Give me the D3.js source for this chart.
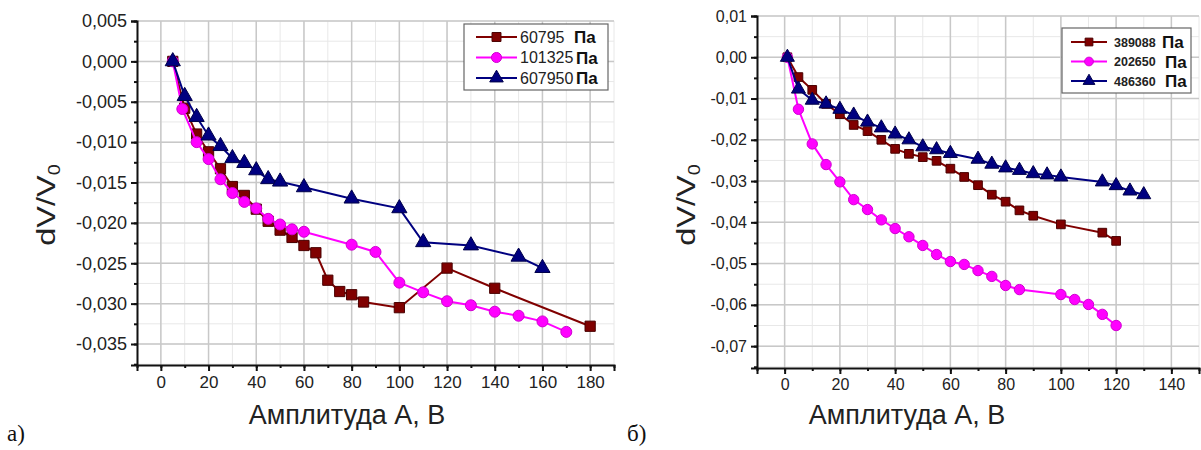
<!DOCTYPE html>
<html>
<head>
<meta charset="utf-8">
<script src="https://cdn.jsdelivr.net/npm/d3@7"></script>
<style>
  body { margin: 0; background: #fff; }
  svg { display: block; font-family: "Liberation Sans", Arial, sans-serif; }
</style>
</head>
<body>
<div id="chart"></div>
<script>
'use strict';

// ---- panel a) data ----
const aX1 = [5, 10, 15, 20, 25, 30, 35, 40, 45, 50, 55, 60, 65, 70, 75, 80, 85, 100, 120, 140, 180];
const aY1 = [0, -0.0058, -0.0090, -0.0112, -0.0133, -0.0155, -0.0166, -0.0183, -0.0198, -0.0209, -0.0218, -0.0228, -0.0237, -0.0271, -0.0285, -0.0289, -0.0298, -0.0305, -0.0256, -0.0281, -0.0328];
const aX2 = [5, 9, 15, 20, 25, 30, 35, 40, 45, 50, 55, 60, 80, 90, 100, 110, 120, 130, 140, 150, 160, 170];
const aY2 = [0, -0.0059, -0.0100, -0.0121, -0.0146, -0.0163, -0.0174, -0.0182, -0.0195, -0.0202, -0.0208, -0.0211, -0.0227, -0.0236, -0.0274, -0.0286, -0.0297, -0.0302, -0.0310, -0.0315, -0.0322, -0.0335];
const aX3 = [5, 10, 15, 20, 25, 30, 35, 40, 45, 50, 60, 80, 100, 110, 130, 150, 160];
const aY3 = [0, -0.0043, -0.0069, -0.0092, -0.0105, -0.0120, -0.0126, -0.0135, -0.0146, -0.0149, -0.0156, -0.0170, -0.0182, -0.0224, -0.0228, -0.0242, -0.0256];
const aNames = ['60795', '101325', '607950'];

// ---- panel б) data ----
const bX1 = [1, 5, 10, 15, 20, 25, 30, 35, 40, 45, 50, 55, 60, 65, 70, 75, 80, 85, 90, 100, 115, 120];
const bY1 = [0, -0.0048, -0.0079, -0.0113, -0.0138, -0.0164, -0.0179, -0.0200, -0.0222, -0.0234, -0.0242, -0.0251, -0.0270, -0.0290, -0.0310, -0.0333, -0.0350, -0.0371, -0.0384, -0.0405, -0.0425, -0.0445];
const bX2 = [1, 5, 10, 15, 20, 25, 30, 35, 40, 45, 50, 55, 60, 65, 70, 75, 80, 85, 100, 105, 110, 115, 120];
const bY2 = [0, -0.0126, -0.0210, -0.0260, -0.0302, -0.0345, -0.0369, -0.0394, -0.0415, -0.0435, -0.0456, -0.0478, -0.0495, -0.0502, -0.0517, -0.0531, -0.0553, -0.0563, -0.0575, -0.0587, -0.0599, -0.0623, -0.0650];
const bX3 = [1, 5, 10, 15, 20, 25, 30, 35, 40, 45, 50, 55, 60, 70, 75, 80, 85, 90, 95, 100, 115, 120, 125, 130];
const bY3 = [0, -0.0077, -0.0104, -0.0113, -0.0126, -0.0140, -0.0157, -0.0171, -0.0186, -0.0200, -0.0217, -0.0224, -0.0233, -0.0247, -0.0259, -0.0268, -0.0274, -0.0282, -0.0285, -0.0290, -0.0302, -0.0311, -0.0324, -0.0333];
const bNames = ['389088', '202650', '486360'];

const unit = 'Па';
const xTitle = 'Амплитуда А, В';

const colors = ['#800000', '#ff00ff', '#000080'];
const edges = ['#4a0000', '#d000d0', '#00004a'];
const shapes = [d3.symbolSquare, d3.symbolCircle, d3.symbolTriangle];

const loc = d3.formatLocale({ decimal: ',', thousands: ' ', grouping: [3], currency: ['', ''], minus: '-' });

const W = 1201, H = 450;
const svg = d3.select('#chart').append('svg')
    .attr('width', W)
    .attr('height', H);

function zip(xs, ys) {
    return xs.map((x, i) => ({ x: x, y: ys[i] }));
}

function drawPanel(cfg) {
    const x = d3.scaleLinear().domain(cfg.xDomain).range(cfg.xRange);
    const y = d3.scaleLinear().domain(cfg.yDomain).range(cfg.yRange);
    const g = svg.append('g');
    const [x0, x1] = cfg.xRange;
    const [y0, y1] = cfg.yRange;

    // grid: minor then major
    const grid = g.append('g');
    grid.selectAll('.vmin').data(d3.range(cfg.xMinor[0], cfg.xMinor[1] + 1e-9, cfg.xMinor[2]))
        .join('line')
        .attr('x1', d => x(d)).attr('x2', d => x(d))
        .attr('y1', y0).attr('y2', y1)
        .attr('stroke', '#e8e8e8').attr('stroke-width', 1);
    grid.selectAll('.hmin').data(d3.range(cfg.yMinor[0], cfg.yMinor[1] + 1e-9, cfg.yMinor[2]))
        .join('line')
        .attr('x1', x0).attr('x2', x1)
        .attr('y1', d => y(d)).attr('y2', d => y(d))
        .attr('stroke', '#e8e8e8').attr('stroke-width', 1);
    grid.selectAll('.vmaj').data(cfg.xTicks)
        .join('line')
        .attr('x1', d => x(d)).attr('x2', d => x(d))
        .attr('y1', y0).attr('y2', y1)
        .attr('stroke', '#c8c8c8').attr('stroke-width', 1.5);
    grid.selectAll('.hmaj').data(cfg.yTicks)
        .join('line')
        .attr('x1', x0).attr('x2', x1)
        .attr('y1', d => y(d)).attr('y2', d => y(d))
        .attr('stroke', '#c8c8c8').attr('stroke-width', 1.5);

    // axes
    const xAxis = g.append('g').attr('transform', `translate(0,${y0})`)
        .call(d3.axisBottom(x).tickValues(cfg.xTicks).tickSize(6).tickPadding(5).tickFormat(d3.format('d')));
    g.append('g').attr('transform', `translate(0,${y0})`)
        .call(d3.axisBottom(x).tickValues(d3.range(cfg.xMinor[0], cfg.xMinor[1] + 1e-9, cfg.xMinor[2])).tickSize(3).tickFormat(''))
        .select('.domain').remove();
    const yAxis = g.append('g').attr('transform', `translate(${x0},0)`)
        .call(d3.axisLeft(y).tickValues(cfg.yTicks).tickSize(6).tickPadding(4).tickFormat(loc.format(cfg.yFmt)));
    g.append('g').attr('transform', `translate(${x0},0)`)
        .call(d3.axisLeft(y).tickValues(d3.range(cfg.yMinor[0], cfg.yMinor[1] + 1e-9, cfg.yMinor[2])).tickSize(3).tickFormat(''))
        .select('.domain').remove();
    [xAxis, yAxis].forEach(a => {
        a.select('.domain').attr('stroke', '#111').attr('stroke-width', 2);
    });
    g.selectAll('.tick line').attr('stroke', '#111').attr('stroke-width', 2);
    xAxis.selectAll('text').attr('font-size', cfg.xFont).attr('fill', '#222')
        .attr('font-family', '"Liberation Sans", Arial, sans-serif');
    yAxis.selectAll('text').attr('font-size', cfg.yFont).attr('fill', '#222')
        .attr('font-family', '"Liberation Sans", Arial, sans-serif');

    // series
    const line = d3.line().x(d => x(d.x)).y(d => y(d.y));
    cfg.series.forEach((s, i) => {
        const pts = zip(s.xs, s.ys);
        g.append('path').datum(pts)
            .attr('d', line)
            .attr('fill', 'none')
            .attr('stroke', colors[i])
            .attr('stroke-width', cfg.lineW);
        g.selectAll(null).data(pts).join('path')
            .attr('transform', d => `translate(${x(d.x)},${y(d.y)})`)
            .attr('d', d3.symbol(shapes[i], cfg.symSize[i]))
            .attr('fill', colors[i])
            .attr('stroke', edges[i])
            .attr('stroke-width', 1);
    });

    // legend
    const L = cfg.legend;
    const lg = g.append('g');
    lg.append('rect')
        .attr('x', L.x).attr('y', L.y).attr('width', L.w).attr('height', L.h)
        .attr('fill', '#fff').attr('stroke', '#666').attr('stroke-width', 1.2);
    cfg.series.forEach((s, i) => {
        const cy = L.y + L.row0 + i * L.dy;
        lg.append('line')
            .attr('x1', L.x + L.lx0).attr('x2', L.x + L.lx1)
            .attr('y1', cy).attr('y2', cy)
            .attr('stroke', colors[i]).attr('stroke-width', 2);
        lg.append('path')
            .attr('transform', `translate(${L.x + (L.lx0 + L.lx1) / 2},${cy})`)
            .attr('d', d3.symbol(shapes[i], L.sym))
            .attr('fill', colors[i]).attr('stroke', edges[i]);
        lg.append('text')
            .attr('x', L.x + L.tx).attr('y', cy + L.numFont * 0.36)
            .attr('font-size', L.numFont)
            .attr('font-weight', L.numWeight)
            .attr('fill', '#222')
            .text(s.name);
        lg.append('text')
            .attr('x', L.x + L.ux[i]).attr('y', cy + 6)
            .attr('font-size', 17)
            .attr('font-weight', 'bold')
            .attr('fill', '#111')
            .text(unit);
    });

    // axis titles
    g.append('text')
        .attr('x', cfg.xTitlePos[0]).attr('y', cfg.xTitlePos[1])
        .attr('text-anchor', 'middle')
        .attr('font-size', 27)
        .attr('fill', '#222')
        .text(xTitle);
    const yt = g.append('text')
        .attr('transform', `translate(${cfg.yTitlePos[0]},${cfg.yTitlePos[1]}) rotate(-90) scale(1.25,1)`)
        .attr('text-anchor', 'middle')
        .attr('font-size', 26)
        .attr('fill', '#222');
    yt.append('tspan').text('dV/V');
    yt.append('tspan').attr('font-size', 16).attr('dy', 5).text('0');

    // panel letter
    svg.append('text')
        .attr('x', cfg.letterPos[0]).attr('y', cfg.letterPos[1])
        .attr('font-family', '"Liberation Serif", "Times New Roman", serif')
        .attr('font-size', 23)
        .attr('fill', '#111')
        .text(cfg.letter);
}

drawPanel({
    xDomain: [-10, 190], xRange: [137, 614],
    yDomain: [-0.0376, 0.005], yRange: [365, 21],
    xTicks: d3.range(0, 181, 20),
    xMinor: [-10, 190, 10],
    yTicks: d3.range(-0.035, 0.0051, 0.005),
    yMinor: [-0.0375, 0.005, 0.0025],
    yFmt: '.3f', xFont: 17, yFont: 18,
    lineW: 2,
    symSize: [105, 95, 100],
    series: [
        { name: aNames[0], xs: aX1, ys: aY1 },
        { name: aNames[1], xs: aX2, ys: aY2 },
        { name: aNames[2], xs: aX3, ys: aY3 }
    ],
    legend: { x: 464, y: 24, w: 144, h: 66, row0: 13, dy: 20.5, lx0: 12, lx1: 53, tx: 56,
              numFont: 16, numWeight: 'normal', sym: 80, ux: [110, 112, 112] },
    xTitlePos: [347, 424],
    yTitlePos: [55, 205],
    letter: 'а)', letterPos: [7, 441]
});

drawPanel({
    xDomain: [-10, 150], xRange: [757, 1199],
    yDomain: [-0.0753, 0.01], yRange: [368, 16],
    xTicks: d3.range(0, 141, 20),
    xMinor: [-10, 150, 10],
    yTicks: d3.range(-0.07, 0.0101, 0.01),
    yMinor: [-0.075, 0.01, 0.005],
    yFmt: '.2f', xFont: 16, yFont: 16,
    lineW: 2,
    symSize: [75, 85, 85],
    series: [
        { name: bNames[0], xs: bX1, ys: bY1 },
        { name: bNames[1], xs: bX2, ys: bY2 },
        { name: bNames[2], xs: bX3, ys: bY3 }
    ],
    legend: { x: 1062, y: 28, w: 129, h: 65, row0: 14, dy: 19.5, lx0: 9, lx1: 45, tx: 52,
              numFont: 12.5, numWeight: 'bold', sym: 60, ux: [100, 103, 103] },
    xTitlePos: [907, 424],
    yTitlePos: [695, 205],
    letter: 'б)', letterPos: [627, 441]
});
</script>
</body>
</html>
